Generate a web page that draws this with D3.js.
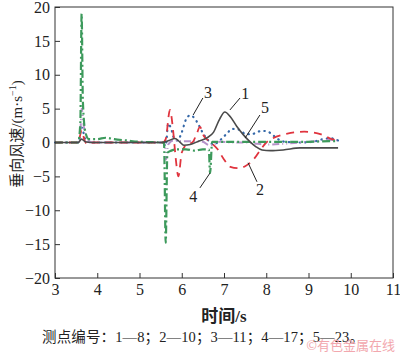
<!DOCTYPE html>
<html>
<head>
<meta charset="utf-8">
<script src="https://cdn.jsdelivr.net/npm/d3@7"></script>
<style>
  body { margin: 0; background: #fff; }
  svg { display: block; }
  .axis text { font-family: "Liberation Serif", "Times New Roman", serif; font-size: 16px; fill: #222; }
  .axis path { display: none; }
  .axis line { stroke: #333; }
</style>
</head>
<body>
<div id="chart"></div>
<script>
// 测点 1
var t1 = [3, 3.55, 3.63, 3.72, 3.85, 5.55, 5.7, 5.84, 5.95, 6.05, 6.2, 6.4, 6.6, 6.75, 6.9, 7.02, 7.15, 7.3, 7.45, 7.6, 7.75, 7.9, 8.1, 8.4, 8.8, 9.2, 9.7];
var v1 = [0, 0, 0.5, 0.1, 0, 0, 0.3, 0.6, 0.1, -0.4, -0.3, 0.2, 0.7, 1.5, 3.5, 4.5, 3.8, 2.4, 1.2, 0.2, -0.6, -1.1, -1.2, -1.1, -0.8, -0.8, -0.8];
// 测点 2
var t2 = [3, 3.55, 3.63, 3.7, 3.78, 3.9, 5.55, 5.62, 5.72, 5.8, 5.86, 5.92, 6.0, 6.12, 6.25, 6.35, 6.43, 6.52, 6.65, 6.85, 7.0, 7.15, 7.35, 7.5, 7.7, 7.85, 8.0, 8.15, 8.5, 8.9, 9.3, 9.55, 9.7];
var v2 = [0, 0, 1.8, 0.3, -0.3, 0, 0, 0.5, 4.8, 1.5, -2.5, -5.0, -1.5, -0.3, 0, 1.2, 2.3, 1.0, 0.2, -1.0, -2.5, -3.6, -3.8, -3.5, -2.5, -1.2, 0, 0.6, 1.3, 1.6, 1.2, 0.5, 0.3];
// 测点 3
var t3 = [3, 3.55, 3.63, 3.72, 3.85, 5.55, 5.62, 5.68, 5.75, 5.82, 5.9, 6.0, 6.1, 6.2, 6.3, 6.4, 6.5, 6.6, 6.75, 6.9, 7.05, 7.2, 7.35, 7.5, 7.65, 7.8, 7.95, 8.1, 8.25, 8.45, 8.8, 9.1, 9.35, 9.55, 9.7];
var v3 = [0, 0, 2.2, 0.5, 0, 0, -0.5, 2.8, 2.0, 0.6, 0.3, 1.5, 3.4, 4.0, 3.6, 2.6, 1.4, 0.5, -0.3, 0.3, 1.2, 2.0, 1.9, 1.3, 1.2, 1.6, 1.7, 1.4, 0.6, 0.1, 0.0, 0.1, 0.5, 0.6, 0.3];
// 测点 4
var t4 = [3, 3.55, 3.6, 3.63, 3.66, 3.72, 3.8, 4.0, 4.2, 4.4, 4.7, 5.0, 5.58, 5.62, 5.66, 5.75, 5.9, 6.1, 6.3, 6.5, 6.64, 6.67, 6.72, 7.0, 7.5, 8.0, 8.5, 9.0, 9.5, 9.7];
var v4 = [0, 0, 3, 19, 6, 1.5, 0.5, 0.5, 0.7, 0.5, 0.3, 0.1, 0, -14.8, -1.5, -1.2, -1.0, -1.0, -1.2, -1.0, -1.0, -4.5, 0.1, 0.1, 0.1, 0.1, 0.1, 0.1, 0.2, 0.2];
// 测点 5
var t5 = [3, 3.55, 3.6, 3.63, 3.68, 3.75, 3.9, 5.55, 5.6, 5.63, 5.68, 5.8, 6.0, 6.3, 6.5, 6.65, 6.75, 6.9, 7.2, 7.5, 7.8, 8.0, 8.4, 8.8, 9.2, 9.5, 9.7];
var v5 = [0, 0, 1.5, 5.0, 2.5, 0.5, 0, 0, -0.3, -2.5, -0.3, 0.3, 0.2, 0.2, 0.1, -0.4, -0.3, 0.1, 0.0, 0.0, -0.2, -0.3, -0.2, 0.0, 0.2, 0.4, 0.3];

var xTicks = [3, 4, 5, 6, 7, 8, 9, 10, 11];
var yTicks = [-20, -15, -10, -5, 0, 5, 10, 15, 20];

// 曲线标注: 编号, 文字位置, 引线两端 (数据坐标)
var annoText = ['1', '2', '3', '4', '5'];
var annoLabel = [[7.50, 7.3], [7.85, -7.0], [6.62, 7.45], [6.27, -8.0], [7.97, 5.1]];
var annoFrom = [[7.14, 4.8], [7.57, -3.0], [6.27, 4.06], [6.67, -4.5], [7.50, 0.66]];
var annoTo = [[7.38, 6.57], [7.78, -5.8], [6.50, 6.57], [6.43, -6.7], [7.85, 4.06]];

var width = 400, height = 353;
var margin = { top: 7, right: 7, bottom: 75, left: 55 };

var svg = d3.select("#chart").append("svg")
    .attr("width", width)
    .attr("height", height);

var x = d3.scaleLinear().domain([3, 11]).range([margin.left, width - margin.right]);
var y = d3.scaleLinear().domain([-20, 20]).range([height - margin.bottom, margin.top]);

// 坐标轴 (刻度朝内)
svg.append("g")
    .attr("class", "axis")
    .attr("transform", "translate(0," + y(-20) + ")")
    .call(d3.axisBottom(x).tickValues(xTicks).tickSize(-5).tickPadding(6).tickFormat(d3.format("d")));

svg.append("g")
    .attr("class", "axis")
    .attr("transform", "translate(" + x(3) + ",0)")
    .call(d3.axisLeft(y).tickValues(yTicks).tickSize(-5).tickPadding(5).tickFormat(function(d) { return d < 0 ? "\u2212" + Math.abs(d) : d; }));

var series = [
    { t: t3, v: v3, color: "#3568a8", dash: "0.5,5", w: 2.2, cap: "round" },
    { t: t5, v: v5, color: "#b592c8", dash: "7,3,1,3,1,3", w: 2, cap: "butt" },
    { t: t2, v: v2, color: "#e0343e", dash: "8,6", w: 1.8, cap: "butt" },
    { t: t4, v: v4, color: "#3d9a5c", dash: "8,3,2,3", w: 2.2, cap: "butt" },
    { t: t1, v: v1, color: "#4a4a4a", dash: null, w: 1.6, cap: "butt" }
];

var line = d3.line()
    .x(function(d) { return x(d[0]); })
    .y(function(d) { return y(d[1]); })
    .curve(d3.curveMonotoneX);

series.forEach(function(s) {
    var pts = s.t.map(function(t, i) { return [t, s.v[i]]; });
    svg.append("path")
        .datum(pts)
        .attr("fill", "none")
        .attr("stroke", s.color)
        .attr("stroke-width", s.w)
        .attr("stroke-linecap", s.cap)
        .attr("stroke-dasharray", s.dash)
        .attr("d", line);
});

// 边框
svg.append("rect")
    .attr("x", x(3)).attr("y", y(20))
    .attr("width", x(11) - x(3)).attr("height", y(-20) - y(20))
    .attr("fill", "none").attr("stroke", "#333").attr("stroke-width", 1);

// 标注
annoText.forEach(function(txt, i) {
    svg.append("line")
        .attr("x1", x(annoFrom[i][0])).attr("y1", y(annoFrom[i][1]))
        .attr("x2", x(annoTo[i][0])).attr("y2", y(annoTo[i][1]))
        .attr("stroke", "#222").attr("stroke-width", 1);
    svg.append("text")
        .attr("x", x(annoLabel[i][0])).attr("y", y(annoLabel[i][1]))
        .attr("text-anchor", "middle")
        .attr("dominant-baseline", "central")
        .style("font-family", "Liberation Serif, serif")
        .style("font-size", "16px")
        .attr("fill", "#222")
        .text(txt);
});

// 轴标题
var yLab = svg.append("text")
    .attr("transform", "translate(22,134) rotate(-90)")
    .attr("text-anchor", "middle")
    .style("font-family", "Liberation Serif, Noto Sans CJK SC, serif")
    .style("font-size", "15px")
    .attr("fill", "#222");
yLab.append("tspan").text("垂向风速/(m·s");
yLab.append("tspan").attr("dy", -6).style("font-size", "10px").text("−1");
yLab.append("tspan").attr("dy", 6).text(")");

svg.append("text")
    .attr("x", (x(3) + x(11)) / 2)
    .attr("y", 322)
    .attr("text-anchor", "middle")
    .style("font-family", "Liberation Serif, Noto Sans CJK SC, serif")
    .style("font-size", "17px")
    .style("font-weight", "bold")
    .attr("fill", "#222")
    .text("时间/s");

svg.append("text")
    .attr("x", 42)
    .attr("y", 342)
    .attr("textLength", 322)
    .attr("lengthAdjust", "spacing")
    .style("font-family", "Liberation Serif, Noto Sans CJK SC, serif")
    .style("font-size", "14.5px")
    .attr("fill", "#222")
    .text("测点编号：1—8；2—10；3—11；4—17；5—23。");

svg.append("text")
    .attr("x", 395)
    .attr("y", 350)
    .attr("text-anchor", "end")
    .style("font-family", "Noto Sans CJK SC, sans-serif")
    .style("font-size", "13px")
    .attr("fill", "#f2a7ae")
    .text("©有色金属在线");
</script>
</body>
</html>
